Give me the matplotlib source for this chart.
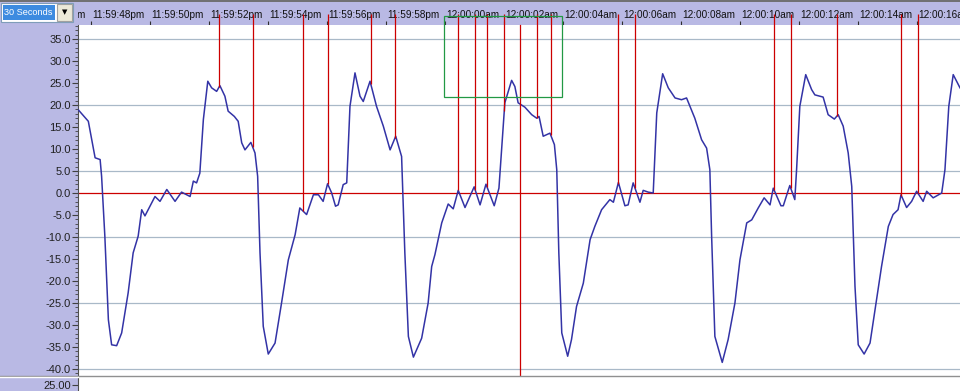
import numpy as np
import matplotlib.pyplot as plt
from matplotlib.patches import Rectangle
from matplotlib.lines import Line2D
from matplotlib.ticker import MultipleLocator, FormatStrFormatter

plt.rcParams['font.family'] = ['Liberation Sans', 'DejaVu Sans']

# trace: seconds after 11:59:48pm, value
t = [-0.43, -0.09, 0.14, 0.31, 0.36, 0.47, 0.59, 0.70, 0.87, 1.04,
     1.26, 1.43, 1.60, 1.72, 1.83, 2.17, 2.34, 2.57, 2.85, 3.07,
     3.36, 3.47, 3.58, 3.69, 3.81, 3.96, 4.09, 4.26, 4.37, 4.54,
     4.65, 4.86, 4.99, 5.11, 5.22, 5.42, 5.56, 5.65, 5.73, 5.84,
     6.01, 6.24, 6.46, 6.69, 6.92, 7.08, 7.31, 7.54, 7.71, 7.87,
     8.02, 8.16, 8.29, 8.38, 8.55, 8.67, 8.78, 8.95, 9.12, 9.23,
     9.46, 9.68, 9.91, 10.14, 10.33, 10.53, 10.64, 10.76, 10.93, 11.21,
     11.43, 11.55, 11.66, 11.89, 12.11, 12.28, 12.45, 12.68, 12.99, 13.19,
     13.39, 13.67, 13.83, 14.03, 14.26, 14.37, 14.48, 14.71, 14.94, 15.11,
     15.19, 15.33, 15.56, 15.71, 15.79, 15.86, 15.96, 16.16, 16.29, 16.46,
     16.69, 16.92, 17.08, 17.31, 17.59, 17.71, 17.88, 18.10, 18.21, 18.38,
     18.61, 18.72, 18.89, 19.06, 19.18, 19.38, 19.57, 19.80, 20.02, 20.19,
     20.47, 20.70, 20.87, 20.98, 21.04, 21.15, 21.40, 21.60, 21.83, 22.00,
     22.23, 22.40, 22.62, 22.82, 23.02, 23.13, 23.39, 23.47, 23.69, 23.86,
     23.92, 24.03, 24.23, 24.43, 24.54, 24.82, 24.99, 25.20, 25.33, 25.50,
     25.67, 25.79, 25.90, 26.01, 26.21, 26.41, 26.63, 26.80, 27.03, 27.19,
     27.36, 27.46, 27.65, 27.82, 27.99, 28.21, 28.33, 28.55, 28.84, 28.95,
     29.08, 29.23, 29.46]
v = [18.9, 16.3, 8.0, 7.6, 3.8, -9.8, -28.8, -34.5, -34.7, -31.8,
     -22.7, -13.6, -9.8, -3.8, -5.2, -0.8, -1.9, 0.8, -1.9, 0.2,
     -0.8, 2.7, 2.3, 4.5, 16.7, 25.4, 23.9, 23.1, 24.4, 22.0,
     18.6, 17.4, 16.3, 11.4, 9.8, 11.5, 9.1, 3.8, -13.6, -30.3,
     -36.6, -34.1, -25.0, -15.2, -9.5, -3.4, -4.9, -0.4, -0.4, -1.9,
     2.1, 0.0, -3.0, -2.7, 1.9, 2.3, 19.7, 27.3, 22.0, 20.8,
     25.4, 19.7, 15.2, 9.8, 12.9, 8.3, -13.6, -32.6, -37.3, -33.0,
     -25.0, -16.7, -14.0, -6.8, -2.5, -3.6, 0.6, -3.3, 1.4, -2.7,
     2.0, -2.9, 1.1, 20.5, 25.6, 24.2, 20.5, 19.5, 17.8, 17.0,
     17.4, 12.9, 13.6, 11.0, 5.3, -13.6, -31.8, -37.1, -33.3, -25.8,
     -20.5, -10.6, -7.6, -3.8, -1.5, -2.1, 2.4, -2.9, -2.7, 2.3,
     -2.1, 0.6, 0.2, 0.0, 18.2, 27.1, 23.9, 21.6, 21.2, 21.6,
     17.0, 12.1, 10.2, 5.3, -9.8, -32.6, -38.5, -33.3, -25.0, -15.2,
     -6.8, -6.1, -3.4, -1.1, -2.7, 1.1, -2.9, -2.9, 1.7, -1.5,
     5.3, 19.7, 26.9, 23.5, 22.3, 21.8, 17.8, 16.8, 17.8, 15.2,
     9.1, 1.5, -21.2, -34.5, -36.6, -34.1, -24.2, -16.7, -7.6, -4.9,
     -3.8, -0.4, -3.3, -1.9, 0.4, -1.9, 0.4, -1.1, 0.0, 5.3,
     19.7, 26.9, 23.9]

# event markers (seconds)
marker_t = [4.35, 5.48, 7.19, 8.02, 9.48, 10.31, 12.45, 13.02, 13.42, 14.01,
            15.13, 15.59, 17.87, 18.44, 23.16, 23.72, 25.29, 27.45, 28.02]
cursor_t = 14.54
box_t = [11.97, 15.97]
box_v = [21.8, 40.2]

time_ticks = [-2, 0, 2, 4, 6, 8, 10, 12, 14, 16, 18, 20, 22, 24, 26, 28]
time_labels = ['11:59:46pm', '11:59:48pm', '11:59:50pm', '11:59:52pm',
               '11:59:54pm', '11:59:56pm', '11:59:58pm', '12:00:00am',
               '12:00:02am', '12:00:04am', '12:00:06am', '12:00:08am',
               '12:00:10am', '12:00:12am', '12:00:14am', '12:00:16am']
grid_levels = [35, 20, 5, -10, -25, -40]

W, H = 960, 391
lav = '#B9B9E4'
red = '#CC0000'
blue = '#3333A6'
gridc = '#A9B9C8'
xlim = (-0.44, 29.46)

fig = plt.figure(figsize=(W / 100, H / 100), dpi=100, facecolor=lav)

# time bar
top = fig.add_axes([78 / W, 1 - 25 / H, 882 / W, 25 / H], facecolor=lav)
for s in top.spines.values():
    s.set_visible(False)
top.set_yticks([])
top.set_xticks(time_ticks)
top.set_xlim(*xlim)
top.set_ylim(0, 1)
top.tick_params(axis='x', direction='in', length=3, color='#303030',
                labelbottom=False)
for tt, lab in zip(time_ticks, time_labels):
    top.text(tt + 0.04, 0.42, lab, ha='left', va='center', fontsize=7.2,
             color='#101010', transform=top.get_xaxis_transform(), clip_on=True)

# main plot
ax = fig.add_axes([78 / W, 1 - 376 / H, 882 / W, 351 / H], facecolor='white')
for g in grid_levels:
    ax.axhline(g, color=gridc, lw=0.9, zorder=1)
ax.axhline(0, color=red, lw=0.9, zorder=2)
ax.plot(t, v, color=blue, lw=1.1, zorder=3)
ax.vlines(marker_t, np.interp(marker_t, t, v), 40.7, colors=red, lw=0.9,
          clip_on=False, zorder=4)
ax.axvline(cursor_t, ymin=-0.05, ymax=1, color=red, lw=0.9, clip_on=False,
           zorder=4)
ax.add_patch(Rectangle((box_t[0], box_v[0]), box_t[1] - box_t[0],
                       box_v[1] - box_v[0], fill=False, edgecolor='#229944',
                       lw=0.9, clip_on=False, zorder=5))
ax.set_xlim(*xlim)
ax.set_ylim(-41.59, 38.18)
for side in ['top', 'right', 'bottom']:
    ax.spines[side].set_visible(False)
ax.spines['left'].set_color('#505050')
ax.yaxis.set_major_locator(MultipleLocator(5))
ax.yaxis.set_minor_locator(MultipleLocator(1))
ax.yaxis.set_major_formatter(FormatStrFormatter('%.1f'))
ax.tick_params(axis='y', which='major', length=4, labelsize=8,
               color='#404040', labelcolor='#202020', pad=1)
ax.tick_params(axis='y', which='minor', length=2, color='#404040')
ax.tick_params(axis='x', bottom=False, labelbottom=False)

# lower strip
bot = fig.add_axes([78 / W, 0, 882 / W, 14 / H], facecolor='white')
bot.set_xticks([])
bot.set_yticks([25])
bot.set_xlim(*xlim)
bot.set_ylim(20.7, 30.7)
bot.yaxis.set_major_formatter(FormatStrFormatter('%.2f'))
bot.tick_params(axis='y', length=4, labelsize=8, color='#404040',
                labelcolor='#202020', pad=1)
for side in ['top', 'right', 'bottom']:
    bot.spines[side].set_visible(False)
bot.spines['left'].set_color('#505050')

fig.add_artist(Line2D([0, 1], [1 - 375.5 / H] * 2, transform=fig.transFigure,
                      color='#909090', lw=1.0))
fig.add_artist(Line2D([0, 78 / W], [1 - 377 / H] * 2, transform=fig.transFigure,
                      color='white', lw=1.0))
fig.add_artist(Line2D([0, 1], [1 - 0.7 / H] * 2, transform=fig.transFigure,
                      color='#707070', lw=1.4))

# range selector
fig.add_artist(Rectangle((1 / W, 1 - 22 / H), 72 / W, 19 / H,
                         transform=fig.transFigure, facecolor='white',
                         edgecolor='#7F9DB9', lw=0.8))
fig.add_artist(Rectangle((3 / W, 1 - 20 / H), 52 / W, 15 / H,
                         transform=fig.transFigure, facecolor='#3D8BE0',
                         edgecolor='none'))
fig.text(4 / W, 1 - 12.5 / H, '30 Seconds', color='white', fontsize=6.6,
         ha='left', va='center')
fig.add_artist(Rectangle((57 / W, 1 - 21 / H), 15 / W, 17 / H,
                         transform=fig.transFigure, facecolor='#ECE9D8',
                         edgecolor='#A0A0A0', lw=0.8))
fig.text(64.5 / W, 1 - 12.5 / H, '▼', fontsize=5, ha='center', va='center',
         color='black', family=['DejaVu Sans'])

fig.savefig('out.png', dpi=100, facecolor=lav)
